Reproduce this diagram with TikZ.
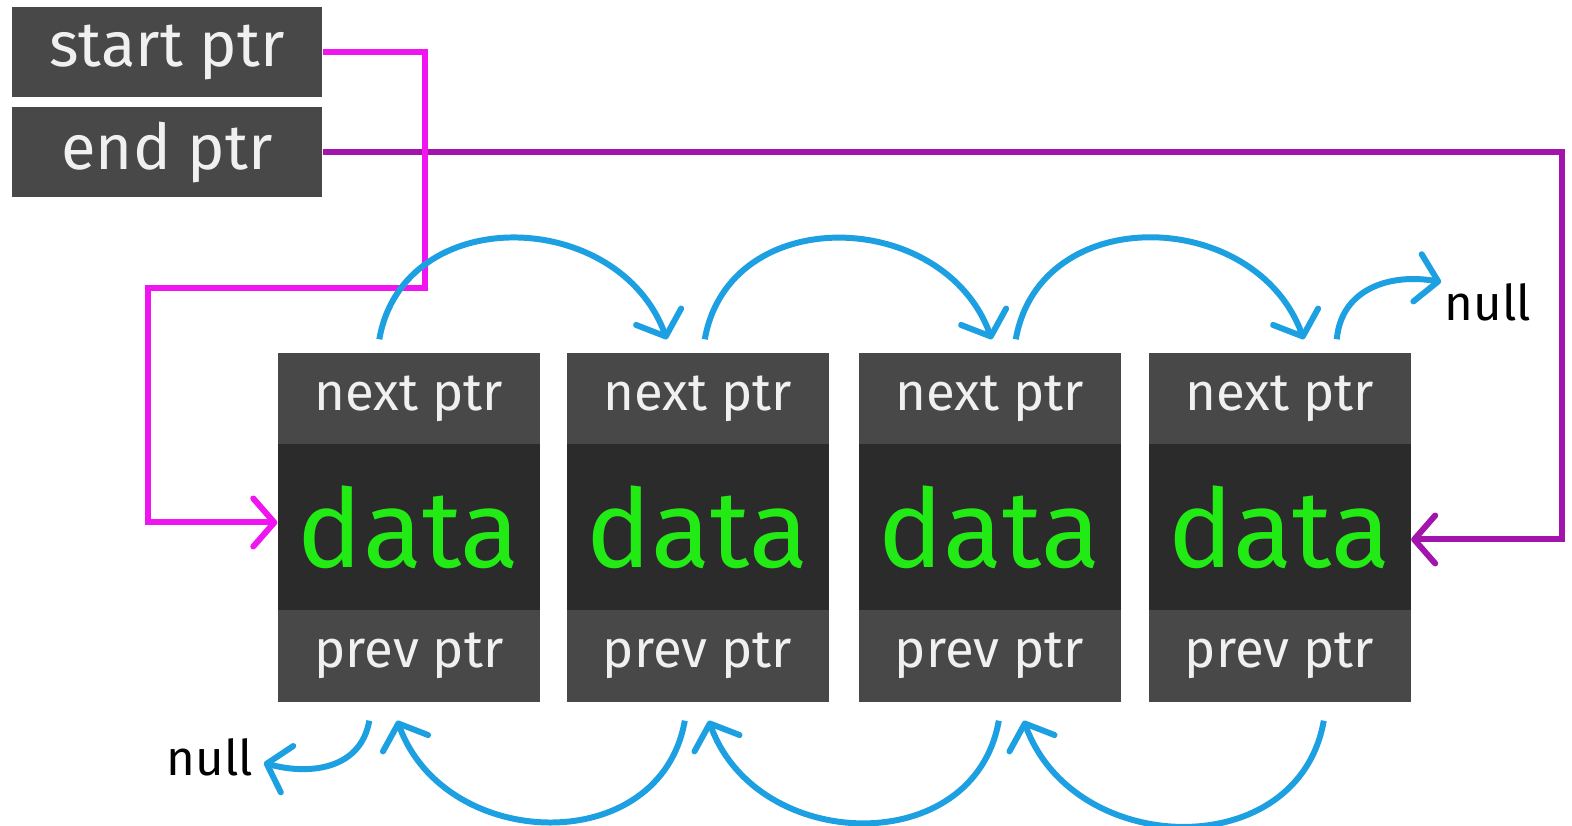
\documentclass[tikz,border=0pt]{standalone}
\usepackage{fontspec}
\setmainfont{Fira Sans}
\usetikzlibrary{arrows.meta}

\definecolor{cellgray}{RGB}{72,72,72}
\definecolor{datagray}{RGB}{43,43,43}
\definecolor{datagreen}{RGB}{34,234,20}
\definecolor{linkblue}{RGB}{28,160,226}
\definecolor{startpink}{RGB}{240,20,240}
\definecolor{endpurple}{RGB}{162,20,172}

\begin{document}
\begin{tikzpicture}[
  ptrcell/.style={fill=cellgray,text=white!94!black,minimum width=2.62cm,
    minimum height=0.92cm,inner sep=0pt,font=\fontsize{15pt}{18pt}\selectfont},
  datacell/.style={fill=datagray,text=datagreen,minimum width=2.62cm,
    minimum height=1.66cm,inner sep=0pt,font=\fontsize{31pt}{36pt}\selectfont},
  headbox/.style={fill=cellgray,text=white!94!black,minimum width=3.10cm,
    minimum height=0.90cm,inner sep=0pt,font=\fontsize{18pt}{22pt}\selectfont},
  nulltext/.style={inner sep=0pt,font=\fontsize{14pt}{17pt}\selectfont},
  barb/.style={-{Straight Barb[length=2.1mm,width=4.8mm,round]}},
  bluelink/.style={draw=linkblue,line width=1.7pt,barb},
  startlink/.style={draw=startpink,line width=1.7pt,barb},
  endlink/.style={draw=endpurple,line width=1.7pt,barb},
]
\useasboundingbox (0,0) rectangle (15.72,8.26);

\node[headbox] (sp) at (1.67,7.735) {start ptr};
\node[headbox] (ep) at (1.67,6.735) {end ptr};

\node[ptrcell] (n1) at (4.09,4.27) {next ptr};
\node[datacell] (d1) at (4.09,2.985) {data};
\node[ptrcell] (p1) at (4.09,1.70) {prev ptr};

\node[ptrcell] (n2) at (6.975,4.27) {next ptr};
\node[datacell] (d2) at (6.975,2.985) {data};
\node[ptrcell] (p2) at (6.975,1.70) {prev ptr};

\node[ptrcell] (n3) at (9.895,4.27) {next ptr};
\node[datacell] (d3) at (9.895,2.985) {data};
\node[ptrcell] (p3) at (9.895,1.70) {prev ptr};

\node[ptrcell] (n4) at (12.795,4.27) {next ptr};
\node[datacell] (d4) at (12.795,2.985) {data};
\node[ptrcell] (p4) at (12.795,1.70) {prev ptr};

\node[nulltext] (nulltop) at (14.88,5.24) {null};
\node[nulltext] (nullbot) at (2.10,0.69) {null};

% head and tail
\draw[endlink] (ep.east) -- (15.62,6.735) |- ([yshift=-0.12cm]d4.east);
\draw[startlink] (sp.east) -- (4.25,7.735) -- (4.25,5.38) -- (1.48,5.38)
  |- ([yshift=0.05cm]d1.west);

% next links
\draw[bluelink] ([xshift=1.02cm,yshift=0.13cm]n1.north west)
  to[out=80,in=110,looseness=1.25] ([xshift=1.01cm,yshift=0.13cm]n2.north west);
\draw[bluelink] ([xshift=1.39cm,yshift=0.13cm]n2.north west)
  to[out=80,in=110,looseness=1.25] ([xshift=1.34cm,yshift=0.13cm]n3.north west);
\draw[bluelink] ([xshift=1.58cm,yshift=0.13cm]n3.north west)
  to[out=80,in=110,looseness=1.25] ([xshift=1.56cm,yshift=0.13cm]n4.north west);
\draw[bluelink] ([xshift=1.89cm,yshift=0.13cm]n4.north west)
  to[out=85,in=170,looseness=1.1] ([xshift=-0.03cm,yshift=0.2cm]nulltop.west);

% prev links
\draw[bluelink] ([xshift=0.92cm,yshift=-0.18cm]p1.south west)
  to[out=-100,in=-15,looseness=1.1] ([xshift=0.1cm,yshift=-0.06cm]nullbot.east);
\draw[bluelink] ([xshift=1.19cm,yshift=-0.18cm]p2.south west)
  to[out=-100,in=-70,looseness=1.25] ([xshift=1.20cm,yshift=-0.18cm]p1.south west);
\draw[bluelink] ([xshift=1.41cm,yshift=-0.18cm]p3.south west)
  to[out=-100,in=-70,looseness=1.25] ([xshift=1.43cm,yshift=-0.18cm]p2.south west);
\draw[bluelink] ([xshift=1.76cm,yshift=-0.18cm]p4.south west)
  to[out=-100,in=-70,looseness=1.25] ([xshift=1.66cm,yshift=-0.18cm]p3.south west);
\end{tikzpicture}
\end{document}
